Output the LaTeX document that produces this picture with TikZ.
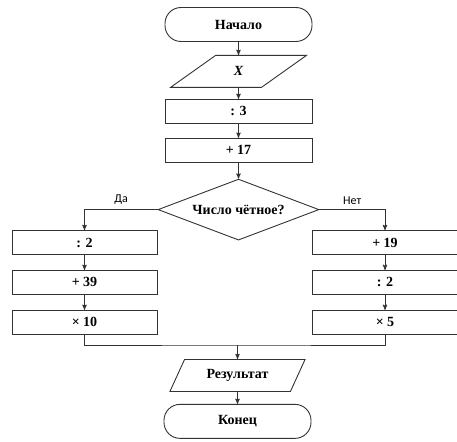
\documentclass[tikz,border=0pt]{standalone}
\usepackage{fontspec}
\setmainfont{Liberation Serif}
\newfontfamily\labelfont{Carlito}
\usetikzlibrary{arrows,positioning,shapes.geometric}
\tikzset{
  %Define standard arrow tip
  >=stealth',
  %Define style for boxes
  kasten/.style={
    rectangle,
    draw=black!80, line width=0.9pt,
    minimum width=145pt,
    minimum height=24pt,
    inner sep=0pt,
    text centered,
    font=\fontsize{14}{16}\selectfont\bfseries},
  ende/.style={kasten, rounded corners=16pt, minimum width=147pt, minimum height=34pt},
  eingabe/.style={kasten, trapezium, trapezium left angle=#1, trapezium right angle=180-#1,
    trapezium stretches=true, minimum width=136pt, minimum height=32pt},
  raute/.style={kasten, diamond, shape aspect=2.64, minimum width=161pt, minimum height=61pt},
  % Define arrow style
  pfeil/.style={
    ->,
    draw=black!80, line width=0.9pt}
}

\begin{document}
\begin{tikzpicture}[x=1pt,y=-1pt,node distance=14pt]
  \useasboundingbox (0,0) rectangle (457,441);
  % main column
  \node[ende] (start) at (238.5,24.5) {Начало};
  \node[eingabe=45, below=13pt of start] (zahl) {\itshape X};
  \node[kasten, minimum width=147pt, below=11pt of zahl] (teil3) {: 3};
  \node[kasten, minimum width=147pt, below=14pt of teil3] (plus17) {+ 17};
  \node[raute, below=16pt of plus17] (frage) {Число чётное?};
  % left branch
  \node[kasten] (teil2) at (84.5,242.5) {: 2};
  \node[kasten, below=15pt of teil2] (plus39) {+ 39};
  \node[kasten, below=15pt of plus39] (mal10) {× 10};
  % right branch
  \node[kasten] (plus19) at (385,242.5) {+ 19};
  \node[kasten, below=15pt of plus19] (teilb2) {: 2};
  \node[kasten, below=15pt of teilb2] (mal5) {× 5};
  % end
  \coordinate (mitte) at (237.5,345);
  \node[eingabe=55, below=14pt of mitte] (ergebnis) {Результат};
  \node[ende, below=12pt of ergebnis] (konec) {Конец};

  \draw[pfeil] (start) -- (zahl);
  \draw[pfeil] (zahl) -- (teil3);
  \draw[pfeil] (teil3) -- (plus17);
  \draw[pfeil] (plus17) -- (frage);
  \draw[pfeil] (frage.west) -| node[pos=0.25,above=1pt,font=\labelfont\fontsize{12}{14}\selectfont] {Да} (teil2);
  \draw[pfeil] (frage.east) -| node[pos=0.25,above=1pt,font=\labelfont\fontsize{12}{14}\selectfont] {Нет} (plus19);
  \draw[pfeil] (teil2) -- (plus39);
  \draw[pfeil] (plus39) -- (mal10);
  \draw[pfeil] (plus19) -- (teilb2);
  \draw[pfeil] (teilb2) -- (mal5);
  \draw[draw=black!80, line width=0.9pt] (mal10.south) |- (mitte) -| (mal5.south);
  \draw[pfeil] (mitte) -- (ergebnis);
  \draw[pfeil] (ergebnis) -- (konec);
\end{tikzpicture}
\end{document}
